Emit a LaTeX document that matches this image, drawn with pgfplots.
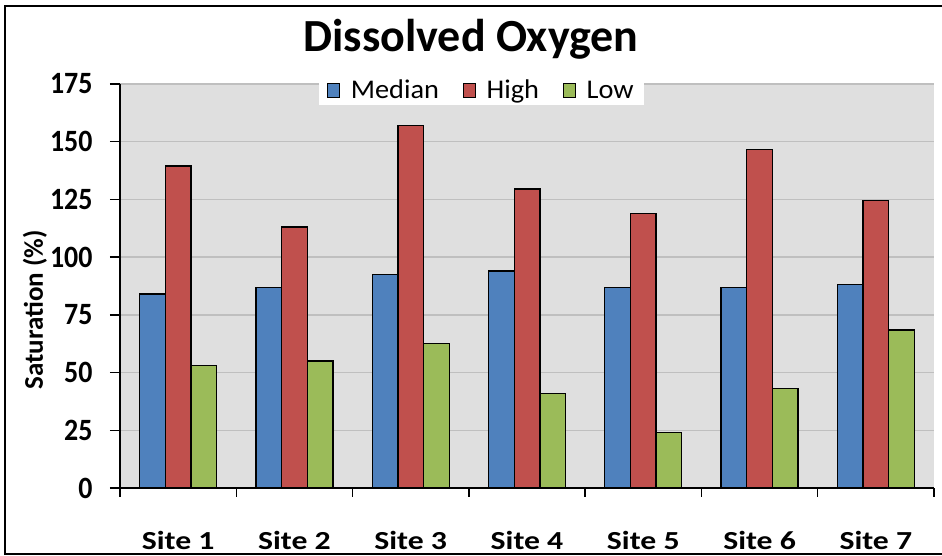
\documentclass[border=0pt]{standalone}
\usepackage{pgfplots}
\pgfplotsset{compat=1.18}
\usepackage{fontspec}
\setmainfont{Carlito}
\newfontfamily\sitefont{Carlito}[FakeStretch=1.22]
\newfontfamily\tickfont{Carlito}[FakeStretch=0.9]
\newfontfamily\legfont{Carlito}[FakeStretch=1.05]
\definecolor{cblue}{HTML}{4F81BD}
\definecolor{cred}{HTML}{C0504D}
\definecolor{cgreen}{HTML}{9BBB59}
\definecolor{bg}{HTML}{DFDFDF}
\definecolor{grid}{HTML}{8A8A8A}
\begin{document}
\begin{tikzpicture}
\begin{axis}[
  at={(0pt,0pt)}, anchor=south west,
  scale only axis, width=814pt, height=404pt,
  xmin=-0.5, xmax=6.5, ymin=0, ymax=175,
  axis background/.style={fill=bg},
  axis x line*=bottom, axis y line*=left,
  axis line style={-, line width=1.3pt, black},
  ybar=0pt, bar width=25.7pt,
  ytick={0,25,...,175},
  xmajorgrids=false, xminorgrids=false,
  ymajorgrids, major grid style={grid, line width=1.3pt},
  xtick={0,...,6},
  xticklabels={Site 1,Site 2,Site 3,Site 4,Site 5,Site 6,Site 7},
  minor xtick={-0.5,0.5,...,6.5},
  major x tick style={draw=none},
  minor x tick style={line width=1.3pt, black},
  minor tick length=9pt,
  major tick length=10pt,
  tick align=outside,
  y tick style={line width=1.3pt, black},
  xticklabel style={font=\sitefont\fontsize{26}{28}\selectfont\bfseries, yshift=-30pt},
  yticklabel style={font=\tickfont\fontsize{31}{33}\selectfont\bfseries, xshift=-14pt},
  /pgf/number format/assume math mode=true,
  legend columns=3,
  legend style={at={(0.444,1.0223)}, anchor=north, draw=none, fill=white,
    font=\legfont\fontsize{27}{29}\selectfont, inner xsep=8pt, inner ysep=3pt,
    /tikz/every even column/.append style={column sep=22pt}},
  legend image code/.code={\path[draw=none, fill=none] (0pt,0pt) -- (21pt,0pt);
    \draw[#1, draw=black, line width=1.2pt] (0pt,-7pt) rectangle (12pt,7pt);},
  every axis plot/.append style={draw=black, line width=1.3pt},
]
\addplot[fill=cblue] coordinates {(0,84) (1,87) (2,92.5) (3,94) (4,87) (5,87) (6,88)};
\addplot[fill=cred] coordinates {(0,139.5) (1,113) (2,157) (3,129.5) (4,119) (5,146.5) (6,124.5)};
\addplot[fill=cgreen] coordinates {(0,53) (1,55) (2,62.5) (3,41) (4,24) (5,43) (6,68.5)};
\legend{Median,High,Low}
\end{axis}
\node[anchor=base] at (351pt,436pt) {\fontsize{46}{48}\selectfont\bfseries Dissolved Oxygen};
\node[rotate=90] at (-85pt,178pt) {\fontsize{27}{29}\selectfont\bfseries Saturation (\%)};
\draw[line width=2pt] (822pt,482pt) -- (-115pt,482pt) -- (-115pt,-66pt) -- (822pt,-66pt);
\pgfresetboundingbox
\useasboundingbox (-120pt,-68pt) rectangle (822pt,488pt);
\end{tikzpicture}
\end{document}
